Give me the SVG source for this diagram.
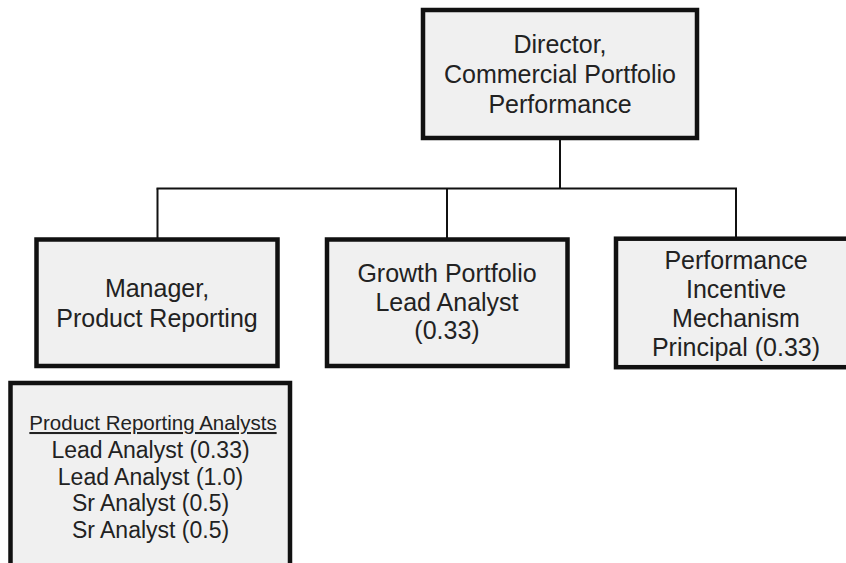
<svg xmlns="http://www.w3.org/2000/svg" width="846" height="563" viewBox="0 0 846 563">
  <style>
    .box { fill: #f0f0f0; stroke: #111; stroke-width: 4.5; }
    .t { font-family: "Liberation Sans", Arial, sans-serif; font-size: 25px; fill: #222; text-anchor: middle; }
    .s { font-size: 23px; }
    .h { font-size: 20.5px; text-decoration: underline; }
    .c { stroke: #111; stroke-width: 2; fill: none; }
  </style>
  <rect width="846" height="563" fill="#ffffff"/>
  <g id="connectors">
    <line class="c" x1="560" y1="139" x2="560" y2="188.5"/>
    <line class="c" x1="156.5" y1="188.5" x2="737" y2="188.5"/>
    <line class="c" x1="157.5" y1="188.5" x2="157.5" y2="238"/>
    <line class="c" x1="447" y1="188.5" x2="447" y2="238"/>
    <line class="c" x1="736" y1="188.5" x2="736" y2="237"/>
  </g>
  <g id="director">
    <rect class="box" x="423" y="10" width="274" height="128"/>
    <text class="t" x="560" y="53">Director,</text>
    <text class="t" x="560" y="83">Commercial Portfolio</text>
    <text class="t" x="560" y="112.5">Performance</text>
  </g>
  <g id="manager">
    <rect class="box" x="36.5" y="239.5" width="241" height="126.5"/>
    <text class="t" x="157" y="297">Manager,</text>
    <text class="t" x="157" y="327">Product Reporting</text>
  </g>
  <g id="growth">
    <rect class="box" x="327" y="239.5" width="240.5" height="126.5"/>
    <text class="t" x="447" y="282">Growth Portfolio</text>
    <text class="t" x="447" y="311">Lead Analyst</text>
    <text class="t" x="447" y="339">(0.33)</text>
  </g>
  <g id="performance">
    <rect class="box" x="616" y="238.7" width="232.5" height="128.5"/>
    <text class="t" x="736" y="268.5">Performance</text>
    <text class="t" x="736" y="298">Incentive</text>
    <text class="t" x="736" y="327">Mechanism</text>
    <text class="t" x="736" y="355.5">Principal (0.33)</text>
  </g>
  <g id="analysts">
    <rect class="box" x="10.5" y="383" width="279.5" height="200"/>
    <text class="t h" x="153" y="430">Product Reporting Analysts</text>
    <text class="t s" x="150.5" y="458">Lead Analyst (0.33)</text>
    <text class="t s" x="150.5" y="484.5">Lead Analyst (1.0)</text>
    <text class="t s" x="150.5" y="511">Sr Analyst (0.5)</text>
    <text class="t s" x="150.5" y="537.5">Sr Analyst (0.5)</text>
  </g>
</svg>
